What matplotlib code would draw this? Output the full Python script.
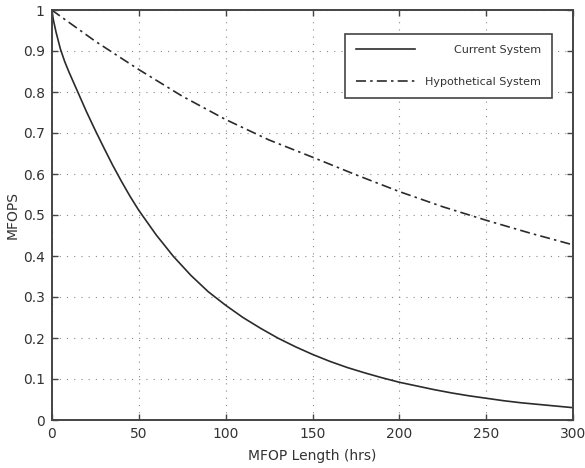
import matplotlib
matplotlib.use("Agg")
import matplotlib.pyplot as plt
from matplotlib.ticker import FixedLocator, FixedFormatter

# Data
t_current = [0, 1, 2.5, 5, 7.5, 10, 15, 20, 25, 30, 35, 40, 45, 50, 60, 70, 80,
             90, 100, 110, 120, 130, 140, 150, 160, 170, 180, 190, 200, 210,
             220, 230, 240, 250, 260, 270, 280, 290, 300]
r_current = [1.000, 0.975, 0.946, 0.905, 0.874, 0.848, 0.800, 0.752, 0.707,
             0.664, 0.622, 0.583, 0.546, 0.512, 0.452, 0.399, 0.353, 0.313,
             0.280, 0.250, 0.224, 0.200, 0.179, 0.160, 0.143, 0.128, 0.115,
             0.103, 0.092, 0.083, 0.074, 0.066, 0.059, 0.053, 0.047, 0.042,
             0.038, 0.034, 0.030]

t_hypo = [0, 25, 50, 75, 100, 125, 150, 175, 200, 225, 250, 275, 300]
r_hypo = [1.000, 0.924, 0.855, 0.790, 0.733, 0.683, 0.641, 0.598, 0.557,
          0.520, 0.487, 0.456, 0.427]

series_labels = ["Current System", "Hypothetical System"]
x_ticks = [0, 50, 100, 150, 200, 250, 300]
x_ticklabels = ["0", "50", "100", "150", "200", "250", "300"]
y_ticks = [0, 0.1, 0.2, 0.3, 0.4, 0.5, 0.6, 0.7, 0.8, 0.9, 1.0]
y_ticklabels = ["0", "0.1", "0.2", "0.3", "0.4", "0.5", "0.6", "0.7", "0.8", "0.9", "1"]

TXT = "#333333"
SPINE = "#444444"
LINE = "#2b2b2b"

plt.rcParams["font.family"] = ["DejaVu Sans"]

fig = plt.figure(figsize=(5.85, 4.68), dpi=100, facecolor="white")
ax = fig.add_axes([51.7 / 585, 1 - 420 / 468, (573.3 - 51.7) / 585, (420 - 10) / 468])

ax.plot(t_current, r_current, color=LINE, lw=1.2, label=series_labels[0])
ax.plot(t_hypo, r_hypo, color=LINE, lw=1.2, dashes=(6, 2.5, 1.5, 2.5),
        label=series_labels[1])

ax.set_xlim(0, 300)
ax.set_ylim(0, 1)
ax.xaxis.set_major_locator(FixedLocator(x_ticks))
ax.xaxis.set_major_formatter(FixedFormatter(x_ticklabels))
ax.yaxis.set_major_locator(FixedLocator(y_ticks))
ax.yaxis.set_major_formatter(FixedFormatter(y_ticklabels))

ax.tick_params(direction="in", length=4, width=1.0, colors=SPINE,
               labelcolor=TXT, labelsize=10, top=True, right=True, pad=5)
for s in ax.spines.values():
    s.set_color(SPINE)
    s.set_linewidth(1.4)

ax.grid(True, color="#8a8a8a", lw=0.8, linestyle=(0, (1, 5.5)))

ax.set_xlabel("MFOP Length (hrs)", color=TXT, fontsize=10, labelpad=6)
ax.set_ylabel("MFOPS", color=TXT, fontsize=10)
ax.yaxis.set_label_coords(-0.061, 0.5)

leg = ax.legend(loc="upper right", bbox_to_anchor=(0.959, 0.941), borderaxespad=0,
                fancybox=False, framealpha=1, edgecolor=SPINE, fontsize=8,
                handlelength=5.3, handletextpad=0.9, borderpad=1.0,
                labelspacing=1.95)
leg.get_frame().set_linewidth(1.2)
for t in leg.get_texts():
    t.set_color(TXT)

# right-align the legend labels (as in the reference)
fig.canvas.draw()
rend = fig.canvas.get_renderer()
texts = leg.get_texts()
widths = [t.get_window_extent(rend).width for t in texts]
wmax = max(widths)
for t, w in zip(texts, widths):
    t.set_x(wmax - w)

fig.savefig("out.png", dpi=100, facecolor="white")
